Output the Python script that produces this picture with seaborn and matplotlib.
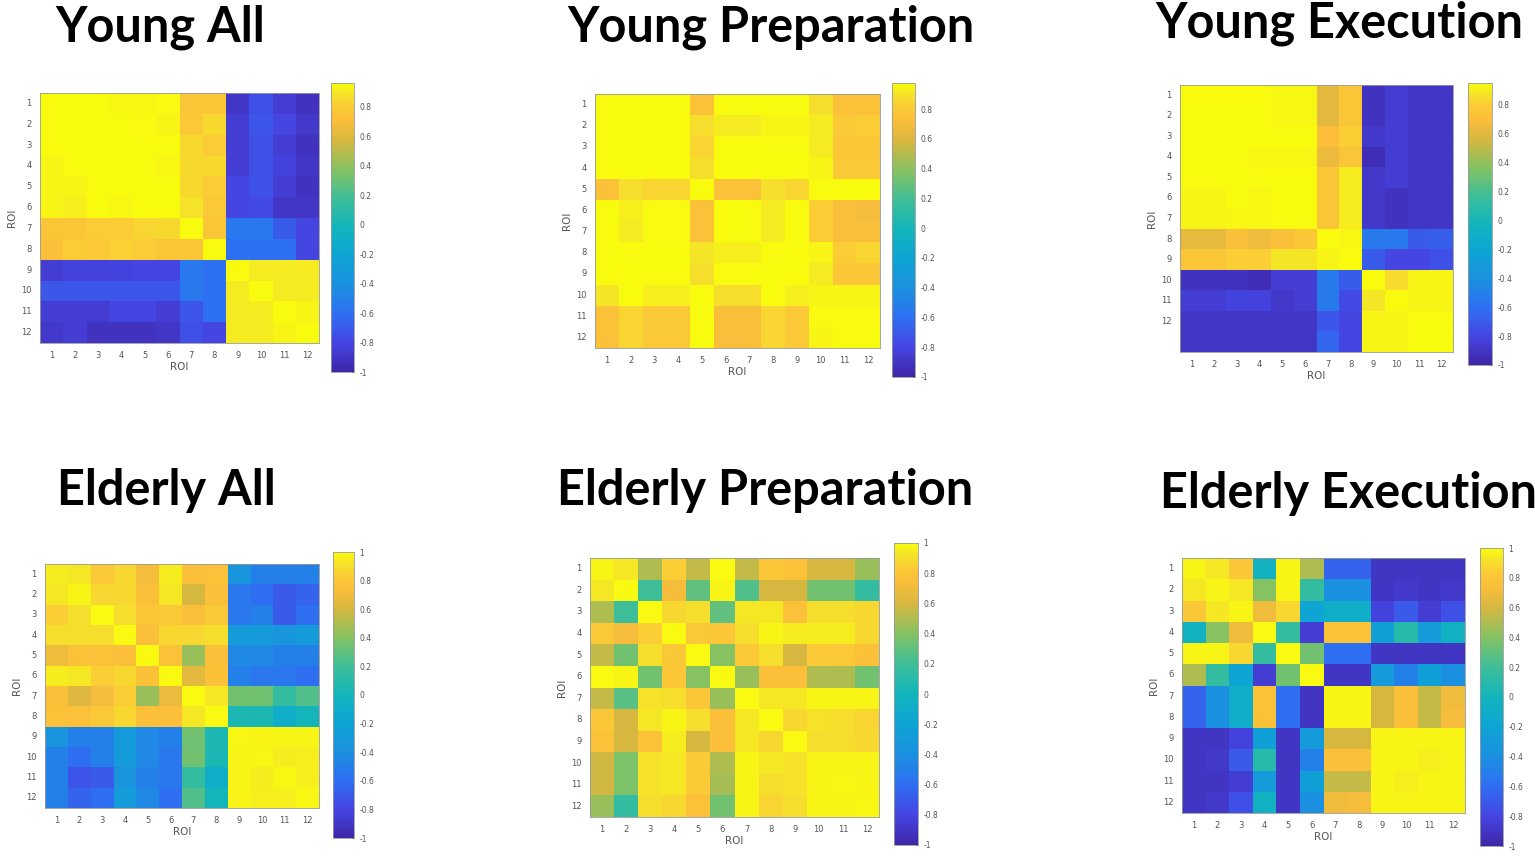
import numpy as np
import pandas as pd
import matplotlib as mpl
import matplotlib.pyplot as plt
from matplotlib.colors import LinearSegmentedColormap
import seaborn as sns

# correlation matrices (rows = ROI, columns = ROI)
young_all = [
    [0.96, 0.96, 0.96, 0.94, 0.94, 0.95, 0.76, 0.76, -0.90, -0.75, -0.85, -0.92],
    [0.96, 0.96, 0.96, 0.96, 0.95, 0.93, 0.78, 0.85, -0.85, -0.72, -0.80, -0.88],
    [0.96, 0.96, 0.96, 0.96, 0.96, 0.96, 0.85, 0.80, -0.85, -0.75, -0.85, -0.92],
    [0.93, 0.96, 0.96, 0.96, 0.96, 0.94, 0.85, 0.85, -0.85, -0.75, -0.82, -0.90],
    [0.93, 0.93, 0.96, 0.96, 0.96, 0.96, 0.85, 0.80, -0.80, -0.75, -0.85, -0.92],
    [0.93, 0.92, 0.96, 0.94, 0.96, 0.96, 0.88, 0.78, -0.80, -0.78, -0.90, -0.90],
    [0.76, 0.76, 0.80, 0.80, 0.83, 0.85, 0.96, 0.76, -0.55, -0.55, -0.70, -0.80],
    [0.72, 0.80, 0.78, 0.82, 0.80, 0.76, 0.76, 0.96, -0.60, -0.60, -0.60, -0.80],
    [-0.85, -0.82, -0.82, -0.82, -0.80, -0.80, -0.55, -0.60, 0.96, 0.90, 0.90, 0.90],
    [-0.72, -0.72, -0.72, -0.72, -0.72, -0.72, -0.55, -0.60, 0.90, 0.96, 0.90, 0.90],
    [-0.85, -0.85, -0.85, -0.80, -0.80, -0.85, -0.72, -0.60, 0.90, 0.90, 0.96, 0.93],
    [-0.88, -0.85, -0.92, -0.92, -0.92, -0.90, -0.75, -0.80, 0.90, 0.90, 0.93, 0.96],
]

young_prep = [
    [0.97, 0.97, 0.97, 0.97, 0.75, 0.97, 0.97, 0.97, 0.97, 0.88, 0.75, 0.75],
    [0.97, 0.97, 0.97, 0.97, 0.88, 0.92, 0.92, 0.95, 0.95, 0.92, 0.80, 0.82],
    [0.97, 0.97, 0.97, 0.97, 0.85, 0.97, 0.97, 0.97, 0.97, 0.92, 0.78, 0.78],
    [0.97, 0.97, 0.97, 0.97, 0.88, 0.97, 0.97, 0.97, 0.97, 0.95, 0.80, 0.80],
    [0.75, 0.88, 0.85, 0.85, 0.99, 0.75, 0.75, 0.88, 0.85, 0.97, 0.97, 0.97],
    [0.97, 0.93, 0.96, 0.96, 0.75, 0.97, 0.97, 0.92, 0.97, 0.82, 0.72, 0.70],
    [0.97, 0.92, 0.96, 0.96, 0.75, 0.97, 0.97, 0.92, 0.97, 0.82, 0.72, 0.72],
    [0.97, 0.97, 0.97, 0.97, 0.90, 0.93, 0.93, 0.97, 0.97, 0.95, 0.82, 0.85],
    [0.97, 0.97, 0.97, 0.97, 0.88, 0.97, 0.97, 0.97, 0.97, 0.92, 0.78, 0.78],
    [0.90, 0.97, 0.93, 0.93, 0.97, 0.88, 0.88, 0.97, 0.93, 0.95, 0.95, 0.95],
    [0.75, 0.85, 0.80, 0.80, 0.97, 0.72, 0.72, 0.85, 0.80, 0.96, 0.96, 0.96],
    [0.75, 0.85, 0.80, 0.80, 0.97, 0.72, 0.72, 0.85, 0.80, 0.95, 0.97, 0.97],
]

# this panel has an extra (unlabelled) bottom row in the original
young_exec = [
    [0.95, 0.95, 0.95, 0.95, 0.93, 0.93, 0.60, 0.75, -0.92, -0.85, -0.90, -0.90],
    [0.95, 0.95, 0.95, 0.95, 0.93, 0.93, 0.60, 0.75, -0.92, -0.85, -0.90, -0.90],
    [0.95, 0.95, 0.95, 0.95, 0.95, 0.95, 0.70, 0.80, -0.88, -0.85, -0.90, -0.90],
    [0.95, 0.95, 0.95, 0.93, 0.93, 0.93, 0.65, 0.75, -0.95, -0.85, -0.90, -0.90],
    [0.95, 0.95, 0.95, 0.95, 0.95, 0.95, 0.75, 0.90, -0.88, -0.85, -0.90, -0.90],
    [0.92, 0.92, 0.95, 0.93, 0.95, 0.95, 0.75, 0.90, -0.88, -0.92, -0.90, -0.90],
    [0.92, 0.92, 0.93, 0.93, 0.95, 0.95, 0.75, 0.90, -0.88, -0.92, -0.90, -0.90],
    [0.62, 0.62, 0.72, 0.66, 0.72, 0.76, 0.95, 0.93, -0.55, -0.55, -0.70, -0.68],
    [0.75, 0.75, 0.80, 0.80, 0.88, 0.88, 0.92, 0.95, -0.70, -0.80, -0.80, -0.75],
    [-0.92, -0.92, -0.92, -0.95, -0.85, -0.85, -0.55, -0.70, 0.95, 0.85, 0.92, 0.92],
    [-0.85, -0.85, -0.82, -0.82, -0.88, -0.85, -0.55, -0.78, 0.88, 0.95, 0.92, 0.92],
    [-0.90, -0.90, -0.90, -0.90, -0.90, -0.90, -0.72, -0.80, 0.92, 0.92, 0.95, 0.95],
    [-0.90, -0.90, -0.90, -0.90, -0.90, -0.90, -0.65, -0.80, 0.92, 0.92, 0.95, 0.95],
]

elderly_all = [
    [0.95, 0.93, 0.82, 0.88, 0.72, 0.95, 0.75, 0.78, -0.35, -0.50, -0.50, -0.50],
    [0.93, 0.97, 0.88, 0.88, 0.75, 0.93, 0.60, 0.75, -0.55, -0.60, -0.70, -0.65],
    [0.85, 0.90, 0.99, 0.90, 0.80, 0.82, 0.75, 0.82, -0.55, -0.50, -0.70, -0.60],
    [0.90, 0.90, 0.90, 0.99, 0.75, 0.88, 0.88, 0.90, -0.30, -0.30, -0.35, -0.30],
    [0.70, 0.77, 0.78, 0.75, 0.99, 0.77, 0.45, 0.75, -0.45, -0.45, -0.50, -0.50],
    [0.95, 0.93, 0.85, 0.88, 0.77, 0.99, 0.65, 0.77, -0.50, -0.55, -0.55, -0.60],
    [0.75, 0.63, 0.72, 0.85, 0.45, 0.68, 0.99, 0.93, 0.35, 0.35, 0.15, 0.25],
    [0.78, 0.77, 0.82, 0.88, 0.75, 0.75, 0.93, 0.99, 0.05, 0.05, -0.10, 0.00],
    [-0.35, -0.50, -0.50, -0.30, -0.45, -0.50, 0.35, 0.05, 0.98, 0.97, 0.97, 0.97],
    [-0.50, -0.60, -0.50, -0.30, -0.45, -0.55, 0.35, 0.05, 0.97, 0.98, 0.95, 0.96],
    [-0.50, -0.72, -0.70, -0.35, -0.50, -0.55, 0.15, -0.10, 0.97, 0.95, 0.98, 0.96],
    [-0.50, -0.65, -0.60, -0.30, -0.45, -0.60, 0.25, 0.00, 0.97, 0.96, 0.96, 0.98],
]

elderly_prep = [
    [0.97, 0.93, 0.50, 0.85, 0.55, 0.99, 0.55, 0.80, 0.78, 0.60, 0.60, 0.45],
    [0.93, 0.99, 0.20, 0.72, 0.30, 0.97, 0.25, 0.60, 0.60, 0.35, 0.35, 0.15],
    [0.50, 0.20, 0.99, 0.88, 0.90, 0.30, 0.93, 0.93, 0.78, 0.90, 0.90, 0.88],
    [0.82, 0.72, 0.85, 0.99, 0.82, 0.80, 0.90, 0.97, 0.95, 0.95, 0.95, 0.88],
    [0.55, 0.35, 0.90, 0.82, 0.99, 0.40, 0.82, 0.90, 0.60, 0.83, 0.82, 0.78],
    [0.99, 0.97, 0.35, 0.80, 0.40, 0.99, 0.45, 0.75, 0.75, 0.50, 0.50, 0.35],
    [0.55, 0.28, 0.92, 0.90, 0.80, 0.45, 0.99, 0.93, 0.93, 0.97, 0.97, 0.97],
    [0.80, 0.60, 0.93, 0.97, 0.90, 0.75, 0.93, 0.99, 0.88, 0.92, 0.90, 0.87],
    [0.78, 0.60, 0.78, 0.95, 0.60, 0.75, 0.93, 0.88, 0.99, 0.90, 0.90, 0.88],
    [0.58, 0.38, 0.92, 0.93, 0.83, 0.50, 0.97, 0.93, 0.92, 0.97, 0.97, 0.97],
    [0.58, 0.38, 0.92, 0.93, 0.83, 0.48, 0.97, 0.90, 0.92, 0.97, 0.98, 0.97],
    [0.45, 0.15, 0.90, 0.88, 0.78, 0.35, 0.97, 0.87, 0.90, 0.97, 0.97, 0.98],
]

elderly_exec = [
    [0.97, 0.93, 0.80, -0.05, 0.97, 0.50, -0.65, -0.65, -0.90, -0.90, -0.90, -0.90],
    [0.93, 0.97, 0.93, 0.40, 0.97, 0.15, -0.40, -0.40, -0.90, -0.88, -0.90, -0.88],
    [0.80, 0.93, 0.97, 0.70, 0.88, -0.20, -0.10, -0.10, -0.82, -0.70, -0.85, -0.75],
    [-0.05, 0.40, 0.70, 0.99, 0.15, -0.85, 0.78, 0.78, -0.25, 0.10, -0.30, -0.05],
    [0.97, 0.97, 0.88, 0.15, 0.99, 0.35, -0.60, -0.60, -0.90, -0.90, -0.90, -0.90],
    [0.50, 0.15, -0.20, -0.85, 0.35, 0.99, -0.90, -0.90, -0.30, -0.50, -0.25, -0.40],
    [-0.65, -0.40, -0.10, 0.78, -0.60, -0.90, 0.97, 0.97, 0.60, 0.75, 0.55, 0.70],
    [-0.65, -0.40, -0.10, 0.78, -0.60, -0.90, 0.97, 0.97, 0.60, 0.75, 0.55, 0.72],
    [-0.90, -0.90, -0.82, -0.25, -0.90, -0.30, 0.60, 0.60, 0.97, 0.97, 0.97, 0.97],
    [-0.90, -0.88, -0.70, 0.10, -0.90, -0.50, 0.75, 0.75, 0.97, 0.97, 0.96, 0.97],
    [-0.90, -0.90, -0.85, -0.30, -0.90, -0.25, 0.55, 0.55, 0.97, 0.96, 0.97, 0.97],
    [-0.90, -0.88, -0.75, -0.05, -0.90, -0.40, 0.70, 0.72, 0.97, 0.97, 0.97, 0.97],
]

titles = ["Young All", "Young Preparation", "Young Execution",
          "Elderly All", "Elderly Preparation", "Elderly Execution"]
matrices = [young_all, young_prep, young_exec, elderly_all, elderly_prep, elderly_exec]
vmaxes = [0.96, 0.975, 0.95, 1.0, 1.0, 1.0]
roi_labels = [str(i) for i in range(1, 13)]

# rough MATLAB parula
parula = LinearSegmentedColormap.from_list("parula", [
    (0.00, "#3e26a8"), (0.10, "#4545e2"), (0.20, "#2e6ff2"), (0.30, "#1b90e0"),
    (0.40, "#0ea4d4"), (0.50, "#12b5bc"), (0.60, "#3dbe98"), (0.70, "#84c263"),
    (0.80, "#d6b740"), (0.875, "#fbbe3a"), (0.92, "#fbcb36"), (0.96, "#f5e22a"),
    (1.00, "#f9fb0e")])

W, H = 1535, 857
fig = plt.figure(figsize=(W / 100, H / 100), dpi=100)
sns.set_style("white")
plt.rcParams["font.family"] = ["DejaVu Sans"]

def rect(x0, y0, x1, y1):
    return [x0 / W, 1 - y1 / H, (x1 - x0) / W, (y1 - y0) / H]

# pixel boxes: heatmap, colorbar, title (left, baseline)
heat_boxes = [(40, 93, 319, 343), (595, 94, 880, 348), (1180, 85, 1453, 352),
              (45, 564, 319, 808), (590, 558, 879, 817), (1182, 558, 1465, 813)]
cbar_boxes = [(331, 83, 354, 372), (892, 83, 915, 377), (1468, 83, 1492, 365),
              (333, 552, 354, 838), (894, 543, 918, 845), (1480, 548, 1503, 846)]
title_pos = [(55, 42), (567, 42), (1155, 38), (57, 505), (557, 505), (1160, 508)]

txt_col = "#555555"
for mat, ttl, vmax, hb, cb, tp in zip(matrices, titles, vmaxes,
                                      heat_boxes, cbar_boxes, title_pos):
    df = pd.DataFrame(mat, columns=roi_labels)
    ylabs = roi_labels + [""] * (len(mat) - 12)
    ax = fig.add_axes(rect(*hb))
    cax = fig.add_axes(rect(*cb))
    sns.heatmap(df, ax=ax, cbar_ax=cax, cmap=parula, vmin=-1, vmax=vmax,
                xticklabels=roi_labels, yticklabels=ylabs)
    for s in ax.spines.values():
        s.set_visible(True)
        s.set_color("#999999")
        s.set_linewidth(0.6)
    ax.tick_params(direction="in", length=2, width=0.6, color="#444444",
                   top=True, right=True, labelsize=6, labelcolor=txt_col, pad=6)
    ax.set_yticklabels(ylabs, rotation=0)
    ax.set_xticklabels(roi_labels, rotation=0)
    ax.set_xlabel("ROI", fontsize=7.5, color=txt_col, labelpad=1)
    ax.set_ylabel("ROI", fontsize=7.5, color=txt_col, labelpad=3)

    cbar = ax.collections[0].colorbar
    ticks = [round(t, 1) + 0.0 for t in np.arange(-1, 1.01, 0.2) if t <= vmax + 1e-9]
    cbar.set_ticks(ticks)
    cbar.set_ticklabels(["%g" % t for t in ticks])
    cax.tick_params(direction="in", length=2, width=0.6, labelsize=5.5,
                    labelcolor=txt_col, pad=4)
    cbar.outline.set_edgecolor("#999999")
    cbar.outline.set_linewidth(0.6)

    fig.text(tp[0] / W, 1 - tp[1] / H, ttl, fontsize=35, fontweight="bold",
             family=["Lato", "DejaVu Sans"], ha="left", va="baseline", color="black")

fig.savefig("out.png", dpi=100, facecolor="white")
